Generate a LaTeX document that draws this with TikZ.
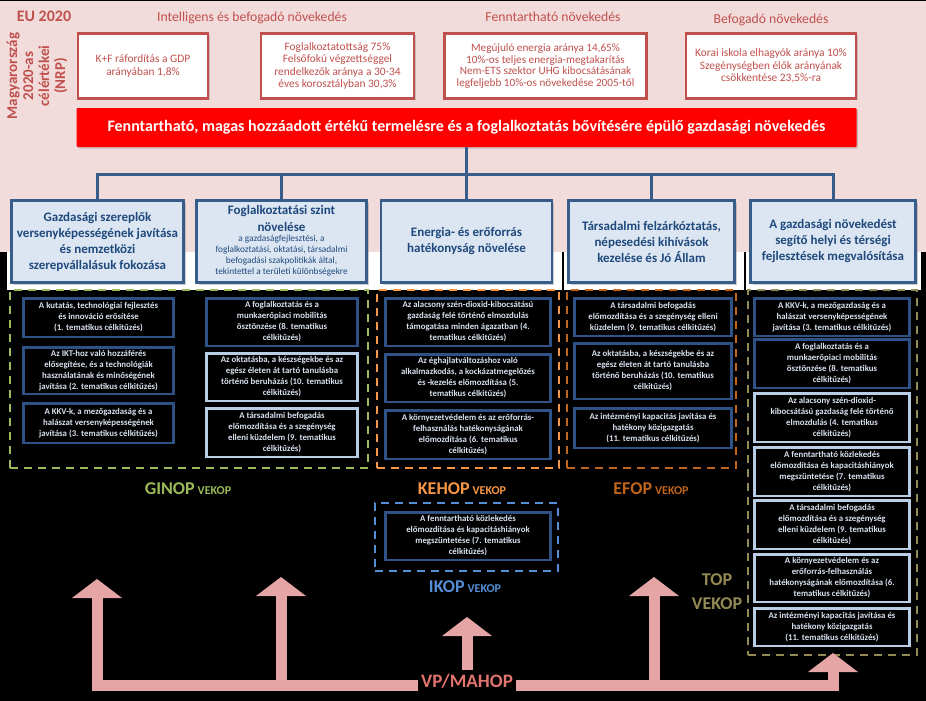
\documentclass[tikz,border=0pt]{standalone}
\usepackage{fontspec}
\setmainfont{Carlito}
\usepackage{xcolor}
\usepackage{tikz}
\usetikzlibrary{positioning, arrows.meta, shadows}
\definecolor{eured}{HTML}{C0504D}
\definecolor{eupink}{HTML}{F2DCDB}
\definecolor{priofill}{HTML}{DCE6F2}
\definecolor{prioline}{HTML}{385D8A}
\definecolor{priotext}{HTML}{1F497D}
\definecolor{todark}{HTML}{2E5186}
\definecolor{tolight}{HTML}{B9CDE5}
\definecolor{totext}{HTML}{D9E2F0}
\definecolor{ginopc}{HTML}{9BBB59}
\definecolor{kehopc}{HTML}{F79646}
\definecolor{efopc}{HTML}{C0651B}
\definecolor{ikopc}{HTML}{558ED5}
\definecolor{topc}{HTML}{948A54}
\definecolor{vpfill}{HTML}{E6A5A5}
\definecolor{vptext}{HTML}{E27470}
\tikzstyle{head} = [text=eured, font=\fontsize{13.7}{15}\selectfont]
\tikzstyle{target} = [rectangle, draw=eured, line width=2.5pt, fill=white, text=eured, align=center, inner sep=2pt, font=\fontsize{11.4}{12.5}\selectfont, drop shadow={opacity=.35, shadow xshift=1.5pt, shadow yshift=-1.5pt}]
\tikzstyle{mainbar} = [rectangle, fill=red, rounded corners=1pt, text=white, font=\bfseries\fontsize{16}{18}\selectfont, drop shadow={opacity=.35, shadow xshift=1.5pt, shadow yshift=-1.5pt}]
\tikzstyle{prio} = [rectangle, draw=prioline, line width=2.5pt, fill=priofill, text=priotext, align=center, inner sep=1pt, font=\bfseries\fontsize{13}{16}\selectfont, drop shadow={opacity=.4, shadow xshift=2pt, shadow yshift=-2pt}]
\tikzstyle{bus} = [draw=prioline, line width=3pt]
\tikzstyle{group} = [rectangle, line width=2.5pt, dash pattern=on 8pt off 6pt]
\tikzstyle{tobox} = [rectangle, draw=todark, line width=2.5pt, fill=black, text=totext, align=center, inner sep=1.5pt, font=\bfseries\fontsize{8.8}{11}\selectfont]
\tikzstyle{tolite} = [tobox, draw=tolight]
\tikzstyle{oplabel} = [font=\bfseries\fontsize{18}{24}\selectfont, align=center]
\tikzstyle{vparrow} = [draw=vpfill, line width=11pt, line join=miter, -{Triangle[length=19pt, width=50pt, line width=0pt]}]
\newcommand*\smallop[1]{{\fontsize{12}{12}\selectfont #1}}
\newcommand*\priohead[1]{{\bfseries\fontsize{13}{16}\selectfont #1}}

\begin{document}
\begin{tikzpicture}[x=1pt, y=-1pt]

  % Background
  \fill[black] (0,0) rectangle (926,701);
  \fill[eupink] (0,1.5) rectangle (926,252);
  \fill[white] (7,252) rectangle (921,290);
  \draw[black, line width=2pt] (563,252) -- (563,290) (745,252) -- (745,290);

  % EU 2020 targets
  \node (eu) [text=eured, font=\bfseries\fontsize{16}{16}\selectfont] at (44,16) {EU 2020};
  \node (nrp) [rotate=90, text=eured, align=center, font=\bfseries\fontsize{15}{16}\selectfont] at (37,76) {Magyarország\\2020-as\\célértékei\\(NRP)};
  \node (h1) [head] at (252,18) {Intelligens és befogadó növekedés};
  \node (h2) [head] at (553,17) {Fenntartható növekedés};
  \node (h3) [head] at (771,20) {Befogadó növekedés};

  \node (t1) [target, minimum width=130pt, minimum height=65pt] at (143,66) {K+F ráfordítás a GDP\\arányában 1,8\%};
  \node (t2) [target, minimum width=153pt, minimum height=65pt] at (337.5,66) {Foglalkoztatottság 75\%\\Felsőfokú végzettséggel\\rendelkezők aránya a 30-34\\éves korosztályban 30,3\%};
  \node (t3) [target, minimum width=202pt, minimum height=65pt, font=\fontsize{11.2}{11.8}\selectfont] at (545.5,66) {Megújuló energia aránya 14,65\%\\10\%-os teljes energia-megtakarítás\\Nem-ETS szektor UHG kibocsátásának\\legfeljebb 10\%-os növekedése 2005-től};
  \node (t4) [target, minimum width=170pt, minimum height=65pt] at (771,66) {Korai iskola elhagyók aránya 10\%\\Szegénységben élők arányának\\csökkentése 23,5\%-ra};

  % Main goal
  \node (bar) [mainbar, minimum width=780pt, minimum height=39pt] at (466.5,127.5) {Fenntartható, magas hozzáadott értékű termelésre és a foglalkoztatás bővítésére épülő gazdasági növekedés};

  % Priorities
  \node (p1) [prio, minimum width=172pt, minimum height=82pt] at (97.5,241.5) {Gazdasági szereplők\\versenyképességének javítása\\és nemzetközi\\szerepvállalásuk fokozása};
  \node (p2) [prio, minimum width=170pt, minimum height=82pt, font=\mdseries\fontsize{9.3}{10.8}\selectfont] at (281.5,241.5) {\begin{tabular}{@{}c@{}}\priohead{Foglalkoztatási szint}\\[4pt]\priohead{növelése}\\a gazdaságfejlesztési, a\\foglalkoztatási, oktatási, társadalmi\\befogadási szakpolitikák által,\\tekintettel a területi különbségekre\end{tabular}};
  \node (p3) [prio, minimum width=171pt, minimum height=82pt] at (466.5,241.5) {Energia- és erőforrás\\hatékonyság növelése};
  \node (p4) [prio, minimum width=166pt, minimum height=82pt] at (651.5,241.5) {Társadalmi felzárkóztatás,\\népesedési kihívások\\kezelése és Jó Állam};
  \node (p5) [prio, minimum width=165pt, minimum height=82pt] at (833,241.5) {A gazdasági növekedést\\segítő helyi és térségi\\fejlesztések megvalósítása};

  \draw[bus] (bar.south) -- ++(0,27) coordinate (hub);
  \draw[bus] (p1.north) |- (hub) -| (p5.north);
  \draw[bus] (p2.north) -- (p2.north |- hub);
  \draw[bus] (p4.north) -- (p4.north |- hub);
  \draw[bus] (hub) -- (p3.north);

  % Operational programmes
  \node (ginopG) [group, draw=ginopc, minimum width=358pt, minimum height=178pt] at (189,379) {};
  \node (kehopG) [group, draw=kehopc, minimum width=182pt, minimum height=178pt] at (468,379) {};
  \node (efopG) [group, draw=efopc, minimum width=169pt, minimum height=178pt] at (651.5,379) {};
  \node (topG) [group, draw=topc, minimum width=169pt, minimum height=365pt] at (832.5,472.5) {};
  \node (ikopG) [group, draw=ikopc, minimum width=183pt, minimum height=68pt] at (466.5,537) {};

  % GINOP
  \node (gi1) [tobox, minimum width=150pt, minimum height=38.5pt] at (98.5,317.5) {A kutatás, technológiai fejlesztés\\és innováció erősítése\\(1. tematikus célkitűzés)};
  \node (gi2) [tobox, minimum width=150pt, minimum height=46.5pt, below=8pt of gi1] {Az IKT-hoz való hozzáférés\\elősegítése, és a technológiák\\használatának és minőségének\\javítása (2. tematikus célkitűzés)};
  \node (gi3) [tobox, minimum width=150pt, minimum height=39.5pt, below=7pt of gi2] {A KKV-k, a mezőgazdaság és a\\halászat versenyképességének\\javítása (3. tematikus célkitűzés)};
  \node (gi4) [tobox, minimum width=151pt, minimum height=47.5pt] at (282,322) {A foglalkoztatás és a\\munkaerőpiaci mobilitás\\ösztönzése (8. tematikus\\célkitűzés)};
  \node (gi5) [tolite, minimum width=151pt, minimum height=47.5pt, below=5pt of gi4] {Az oktatásba, a készségekbe és az\\egész életen át tartó tanulásba\\történő beruházás (10. tematikus\\célkitűzés)};
  \node (gi6) [tolite, minimum width=151pt, minimum height=48.5pt, below=5pt of gi5] {A társadalmi befogadás\\előmozdítása és a szegénység\\elleni küzdelem (9. tematikus\\célkitűzés)};

  % KEHOP
  \node (ke1) [tobox, minimum width=165pt, minimum height=47.5pt] at (468,322) {Az alacsony szén-dioxid-kibocsátású\\gazdaság felé történő elmozdulás\\támogatása minden ágazatban (4.\\tematikus célkitűzés)};
  \node (ke2) [tobox, minimum width=165pt, minimum height=47.5pt, below=6pt of ke1] {Az éghajlatváltozáshoz való\\alkalmazkodás, a kockázatmegelőzés\\és -kezelés előmozdítása (5.\\tematikus célkitűzés)};
  \node (ke3) [tobox, minimum width=165pt, minimum height=48.5pt, below=6pt of ke2] {A környezetvédelem és az erőforrás-\\felhasználás hatékonyságának\\előmozdítása (6. tematikus\\célkitűzés)};

  % EFOP
  \node (ef1) [tobox, minimum width=157pt, minimum height=37.5pt] at (653,317) {A társadalmi befogadás\\előmozdítása és a szegénység elleni\\küzdelem (9. tematikus célkitűzés)};
  \node (ef2) [tobox, minimum width=157pt, minimum height=55.5pt, below=5pt of ef1] {Az oktatásba, a készségekbe és az\\egész életen át tartó tanulásba\\történő beruházás (10. tematikus\\célkitűzés)};
  \node (ef3) [tobox, minimum width=157pt, minimum height=39.5pt, below=7pt of ef2] {Az intézményi kapacitás javítása és\\hatékony közigazgatás\\(11. tematikus célkitűzés)};

  % IKOP
  \node (ik1) [tobox, minimum width=165pt, minimum height=47.5pt] at (468,536) {A fenntartható közlekedés\\előmozdítása és kapacitáshiányok\\megszüntetése (7. tematikus\\célkitűzés)};

  % TOP
  \node (to1) [tobox, minimum width=155pt, minimum height=37.5pt] at (832,317) {A KKV-k, a mezőgazdaság és a\\halászat versenyképességének\\javítása (3. tematikus célkitűzés)};
  \node (to2) [tobox, minimum width=155pt, minimum height=48.5pt, below=1pt of to1] {A foglalkoztatás és a\\munkaerőpiaci mobilitás\\ösztönzése (8. tematikus\\célkitűzés)};
  \node (to3) [tolite, minimum width=155pt, minimum height=48.5pt, below=3pt of to2] {Az alacsony szén-dioxid-\\kibocsátású gazdaság felé történő\\elmozdulás (4. tematikus\\célkitűzés)};
  \node (to4) [tolite, minimum width=155pt, minimum height=48.5pt, below=3pt of to3] {A fenntartható közlekedés\\előmozdítása és kapacitáshiányok\\megszüntetése (7. tematikus\\célkitűzés)};
  \node (to5) [tolite, minimum width=155pt, minimum height=48.5pt, below=2pt of to4] {A társadalmi befogadás\\előmozdítása és a szegénység\\elleni küzdelem (9. tematikus\\célkitűzés)};
  \node (to6) [tolite, minimum width=155pt, minimum height=47.5pt, below=3pt of to5] {A környezetvédelem és az\\erőforrás-felhasználás\\hatékonyságának előmozdítása (6.\\tematikus célkitűzés)};
  \node (to7) [tolite, minimum width=155pt, minimum height=37.5pt, below=4pt of to6] {Az intézményi kapacitás javítása és\\hatékony közigazgatás\\(11. tematikus célkitűzés)};

  % Programme labels
  \node (ginopL) [oplabel, text=ginopc] at (188,489) {GINOP\,\smallop{VEKOP}};
  \node (kehopL) [oplabel, text=kehopc] at (462,489) {KEHOP\,\smallop{VEKOP}};
  \node (efopL) [oplabel, text=efopc] at (651,489) {EFOP\,\smallop{VEKOP}};
  \node (ikopL) [oplabel, text=ikopc] at (465,587) {IKOP\,\smallop{VEKOP}};
  \node (topL) [oplabel, text=topc] at (717,592) {TOP\\VEKOP};

  % VP/MAHOP arrows
  \node (vp) [text=vptext, font=\bfseries\fontsize{19}{19}\selectfont] at (467,681) {VP/MAHOP};
  \coordinate (vpbar) at (467,685);
  \coordinate (j2) at (281,685);
  \coordinate (j4) at (654,685);
  \coordinate (tipGinopL) at (97,579);
  \coordinate (tipGinopR) at (281,577);
  \coordinate (tipIkop) at (467,617);
  \coordinate (tipEfop) at (654,577);
  \coordinate (tipTop) at (833,653);

  \draw[vparrow] (vp.west |- vpbar) -| (tipGinopL);
  \draw[vparrow] (j2) -- (tipGinopR);
  \draw[vparrow] (vp.north) -- (tipIkop);
  \draw[vparrow] (j4) -- (tipEfop);
  \draw[vparrow] (vp.east |- vpbar) -| (tipTop);

\end{tikzpicture}
\end{document}
